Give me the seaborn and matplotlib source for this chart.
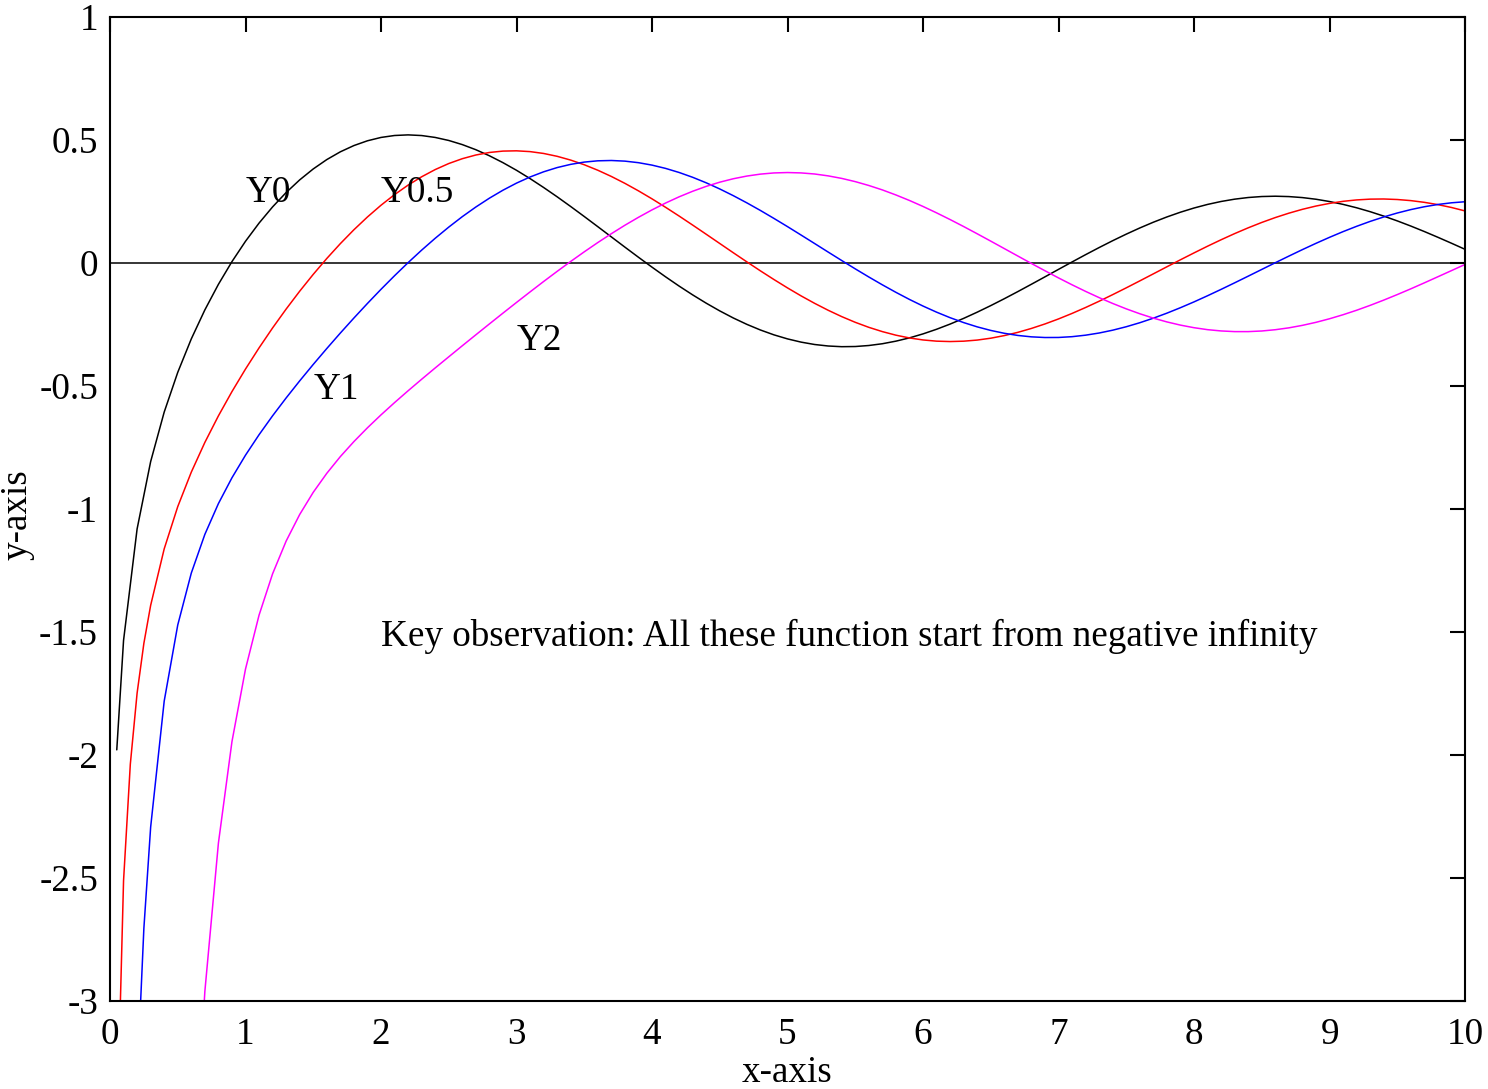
import numpy as np
import pandas as pd
import seaborn as sns
import matplotlib
matplotlib.use("Agg")
import matplotlib.pyplot as plt

# ---- data ----
x_y0 = [0.05, 0.1, 0.2, 0.3, 0.4, 0.5, 0.6, 0.7, 0.8, 0.9, 1.0, 1.1, 1.2, 1.3, 1.4, 1.5, 1.6, 1.7, 1.8, 1.9,
        2.0, 2.1, 2.2, 2.3, 2.4, 2.5, 2.6, 2.7, 2.8, 2.9, 3.0, 3.1, 3.2, 3.3, 3.4, 3.5, 3.6, 3.7, 3.8, 3.9,
        4.0, 4.1, 4.2, 4.3, 4.4, 4.5, 4.6, 4.7, 4.8, 4.9, 5.0, 5.1, 5.2, 5.3, 5.4, 5.5, 5.6, 5.7, 5.8, 5.9,
        6.0, 6.1, 6.2, 6.3, 6.4, 6.5, 6.6, 6.7, 6.8, 6.9, 7.0, 7.1, 7.2, 7.3, 7.4, 7.5, 7.6, 7.7, 7.8, 7.9,
        8.0, 8.1, 8.2, 8.3, 8.4, 8.5, 8.6, 8.7, 8.8, 8.9, 9.0, 9.1, 9.2, 9.3, 9.4, 9.5, 9.6, 9.7, 9.8, 9.9, 10.0]
y0 = [-1.979, -1.5342, -1.0811, -0.8073, -0.6060, -0.4445, -0.3085, -0.1907, -0.0868, 0.0056,
      0.0883, 0.1622, 0.2281, 0.2865, 0.3379, 0.3824, 0.4204, 0.4520, 0.4774, 0.4968,
      0.5104, 0.5183, 0.5208, 0.5181, 0.5104, 0.4981, 0.4813, 0.4605, 0.4359, 0.4079,
      0.3769, 0.3431, 0.3070, 0.2691, 0.2296, 0.1890, 0.1477, 0.1061, 0.0645, 0.0234,
      -0.0169, -0.0561, -0.0938, -0.1296, -0.1633, -0.1947, -0.2235, -0.2494, -0.2723, -0.2921,
      -0.3085, -0.3216, -0.3313, -0.3374, -0.3402, -0.3395, -0.3354, -0.3282, -0.3177, -0.3044,
      -0.2882, -0.2694, -0.2483, -0.2251, -0.1999, -0.1732, -0.1452, -0.1162, -0.0864, -0.0563,
      -0.0259, 0.0042, 0.0339, 0.0628, 0.0907, 0.1173, 0.1424, 0.1658, 0.1872, 0.2065,
      0.2235, 0.2381, 0.2501, 0.2595, 0.2662, 0.2702, 0.2715, 0.2700, 0.2659, 0.2592,
      0.2499, 0.2383, 0.2245, 0.2086, 0.1907, 0.1712, 0.1502, 0.1279, 0.1045, 0.0804, 0.0557]

x_y05 = [0.05, 0.1, 0.15, 0.2, 0.25, 0.3, 0.4, 0.5, 0.6, 0.7, 0.8, 0.9, 1.0, 1.1, 1.2, 1.3, 1.4, 1.5, 1.6, 1.7, 1.8, 1.9,
         2.0, 2.1, 2.2, 2.3, 2.4, 2.5, 2.6, 2.7, 2.8, 2.9, 3.0, 3.1, 3.2, 3.3, 3.4, 3.5, 3.6, 3.7, 3.8, 3.9,
         4.0, 4.1, 4.2, 4.3, 4.4, 4.5, 4.6, 4.7, 4.8, 4.9, 5.0, 5.1, 5.2, 5.3, 5.4, 5.5, 5.6, 5.7, 5.8, 5.9,
         6.0, 6.1, 6.2, 6.3, 6.4, 6.5, 6.6, 6.7, 6.8, 6.9, 7.0, 7.1, 7.2, 7.3, 7.4, 7.5, 7.6, 7.7, 7.8, 7.9,
         8.0, 8.1, 8.2, 8.3, 8.4, 8.5, 8.6, 8.7, 8.8, 8.9, 9.0, 9.1, 9.2, 9.3, 9.4, 9.5, 9.6, 9.7, 9.8, 9.9, 10.0]
y05 = [-3.564, -2.511, -2.037, -1.7486, -1.546, -1.3917, -1.1620, -0.9903, -0.8501, -0.7294, -0.6215, -0.5228,
       -0.4311, -0.3451, -0.2639, -0.1872, -0.1146, -0.0461, 0.0184, 0.0788, 0.1351, 0.1871,
       0.2348, 0.2780, 0.3166, 0.3505, 0.3798, 0.4043, 0.4240, 0.4390, 0.4493, 0.4549,
       0.4560, 0.4528, 0.4453, 0.4337, 0.4183, 0.3994, 0.3771, 0.3518, 0.3238, 0.2933,
       0.2608, 0.2265, 0.1909, 0.1542, 0.1169, 0.0793, 0.0417, 0.0046, -0.0319, -0.0672,
       -0.1012, -0.1336, -0.1639, -0.1921, -0.2179, -0.2411, -0.2615, -0.2789, -0.2934, -0.3047,
       -0.3128, -0.3177, -0.3193, -0.3178, -0.3133, -0.3057, -0.2951, -0.2819, -0.2660, -0.2478,
       -0.2274, -0.2050, -0.1809, -0.1554, -0.1286, -0.1010, -0.0727, -0.0441, -0.0154, 0.0131,
       0.0410, 0.0683, 0.0945, 0.1195, 0.1430, 0.1648, 0.1847, 0.2025, 0.2182, 0.2315,
       0.2423, 0.2507, 0.2564, 0.2596, 0.2602, 0.2581, 0.2536, 0.2466, 0.2373, 0.2257, 0.2117]

x_y1 = [0.15, 0.2, 0.25, 0.3, 0.4, 0.5, 0.6, 0.7, 0.8, 0.9, 1.0, 1.1, 1.2, 1.3, 1.4, 1.5, 1.6, 1.7, 1.8, 1.9,
        2.0, 2.1, 2.2, 2.3, 2.4, 2.5, 2.6, 2.7, 2.8, 2.9, 3.0, 3.1, 3.2, 3.3, 3.4, 3.5, 3.6, 3.7, 3.8, 3.9,
        4.0, 4.1, 4.2, 4.3, 4.4, 4.5, 4.6, 4.7, 4.8, 4.9, 5.0, 5.1, 5.2, 5.3, 5.4, 5.5, 5.6, 5.7, 5.8, 5.9,
        6.0, 6.1, 6.2, 6.3, 6.4, 6.5, 6.6, 6.7, 6.8, 6.9, 7.0, 7.1, 7.2, 7.3, 7.4, 7.5, 7.6, 7.7, 7.8, 7.9,
        8.0, 8.1, 8.2, 8.3, 8.4, 8.5, 8.6, 8.7, 8.8, 8.9, 9.0, 9.1, 9.2, 9.3, 9.4, 9.5, 9.6, 9.7, 9.8, 9.9, 10.0]
y1 = [-4.3638, -3.3238, -2.7046, -2.2931, -1.7809, -1.4715, -1.2604, -1.1032, -0.9781, -0.8731,
      -0.7812, -0.6981, -0.6211, -0.5485, -0.4791, -0.4123, -0.3476, -0.2847, -0.2237, -0.1644,
      -0.1070, -0.0517, 0.0015, 0.0523, 0.1005, 0.1459, 0.1884, 0.2276, 0.2635, 0.2959,
      0.3247, 0.3496, 0.3707, 0.3879, 0.4010, 0.4102, 0.4154, 0.4167, 0.4141, 0.4078,
      0.3979, 0.3846, 0.3680, 0.3484, 0.3260, 0.3010, 0.2737, 0.2445, 0.2136, 0.1812,
      0.1479, 0.1137, 0.0792, 0.0445, 0.0101, -0.0238, -0.0568, -0.0887, -0.1192, -0.1481,
      -0.1750, -0.1998, -0.2223, -0.2422, -0.2596, -0.2741, -0.2857, -0.2945, -0.3002, -0.3029,
      -0.3027, -0.2995, -0.2934, -0.2846, -0.2731, -0.2591, -0.2428, -0.2243, -0.2039, -0.1817,
      -0.1581, -0.1331, -0.1072, -0.0806, -0.0535, -0.0262, 0.0011, 0.0280, 0.0544, 0.0799,
      0.1043, 0.1275, 0.1491, 0.1691, 0.1871, 0.2032, 0.2171, 0.2287, 0.2379, 0.2447, 0.2490]

x_y2 = [0.6, 0.7, 0.8, 0.9, 1.0, 1.1, 1.2, 1.3, 1.4, 1.5, 1.6, 1.7, 1.8, 1.9,
        2.0, 2.1, 2.2, 2.3, 2.4, 2.5, 2.6, 2.7, 2.8, 2.9, 3.0, 3.1, 3.2, 3.3, 3.4, 3.5, 3.6, 3.7, 3.8, 3.9,
        4.0, 4.1, 4.2, 4.3, 4.4, 4.5, 4.6, 4.7, 4.8, 4.9, 5.0, 5.1, 5.2, 5.3, 5.4, 5.5, 5.6, 5.7, 5.8, 5.9,
        6.0, 6.1, 6.2, 6.3, 6.4, 6.5, 6.6, 6.7, 6.8, 6.9, 7.0, 7.1, 7.2, 7.3, 7.4, 7.5, 7.6, 7.7, 7.8, 7.9,
        8.0, 8.1, 8.2, 8.3, 8.4, 8.5, 8.6, 8.7, 8.8, 8.9, 9.0, 9.1, 9.2, 9.3, 9.4, 9.5, 9.6, 9.7, 9.8, 9.9, 10.0]
y2 = [-3.893, -2.9614, -2.3585, -1.9458, -1.6507, -1.4315, -1.2633, -1.1303, -1.0223, -0.9321,
      -0.8549, -0.7869, -0.7260, -0.6699, -0.6174, -0.5675, -0.5194, -0.4726, -0.4266, -0.3814,
      -0.3364, -0.2919, -0.2477, -0.2038, -0.1604, -0.1176, -0.0753, -0.0340, 0.0063, 0.0454,
      0.0831, 0.1191, 0.1535, 0.1857, 0.2159, 0.2437, 0.2690, 0.2916, 0.3115, 0.3285,
      0.3425, 0.3534, 0.3613, 0.3661, 0.3677, 0.3662, 0.3618, 0.3542, 0.3439, 0.3308,
      0.3151, 0.2971, 0.2766, 0.2542, 0.2299, 0.2039, 0.1766, 0.1482, 0.1188, 0.0889,
      0.0586, 0.0283, -0.0019, -0.0315, -0.0606, -0.0886, -0.1154, -0.1408, -0.1645, -0.1864,
      -0.2063, -0.2241, -0.2395, -0.2525, -0.2630, -0.2710, -0.2762, -0.2789, -0.2789, -0.2764,
      -0.2712, -0.2636, -0.2535, -0.2412, -0.2267, -0.2103, -0.1921, -0.1722, -0.1509, -0.1284,
      -0.1050, -0.0807, -0.0559, -0.0310, -0.0059]

series_names = ["Y0", "Y0.5", "Y1", "Y2"]
series_colors = ["black", "red", "blue", "magenta"]

labels_text = ["Y0", "Y0.5", "Y1", "Y2", "Key observation: All these function start from negative infinity"]
labels_x = [1.0, 2.0, 1.5, 3.0, 2.0]
labels_y = [0.3, 0.3, -0.5, -0.3, -1.5]

x_ticks = [0, 1, 2, 3, 4, 5, 6, 7, 8, 9, 10]
x_tick_labels = ["0", "1", "2", "3", "4", "5", "6", "7", "8", "9", "10"]
y_ticks = [-3, -2.5, -2, -1.5, -1, -0.5, 0, 0.5, 1]
y_tick_labels = ["-3", "-2.5", "-2", "-1.5", "-1", "-0.5", "0", "0.5", "1"]

# ---- styling ----
sns.set_theme(style="white")
plt.rcParams["font.family"] = ["Liberation Serif", "DejaVu Serif"]
plt.rcParams["axes.unicode_minus"] = False
FS = 26.7

frames = []
for name, xs, ys in zip(series_names, [x_y0, x_y05, x_y1, x_y2], [y0, y05, y1, y2]):
    frames.append(pd.DataFrame({"x": xs, "y": ys, "series": name}))
df = pd.concat(frames, ignore_index=True)

fig = plt.figure(figsize=(14.88, 10.89), dpi=100)
ax = fig.add_axes([110 / 1488, 1 - 1001 / 1089, (1465 - 110) / 1488, (1001 - 17) / 1089])

ax.axhline(0, color="black", linewidth=1.1, zorder=1)

sns.lineplot(data=df, x="x", y="y", hue="series", hue_order=series_names,
             palette=dict(zip(series_names, series_colors)), estimator=None, sort=False,
             linewidth=1.1, legend=False, ax=ax, zorder=2)

ax.set_xlim(0, 10)
ax.set_ylim(-3, 1)
ax.set_xticks(x_ticks)
ax.set_xticklabels(x_tick_labels)
ax.set_yticks(y_ticks)
ax.set_yticklabels(y_tick_labels)
ax.tick_params(direction="in", length=10.5, width=1.5, top=True, right=True,
               labelsize=FS, colors="black")
ax.tick_params(axis="y", pad=8.6)
ax.tick_params(axis="x", pad=12)
for s in ax.spines.values():
    s.set_visible(True)
    s.set_color("black")
    s.set_linewidth(1.5)

ax.set_xlabel("x-axis", fontsize=FS, color="black", va="baseline")
ax.xaxis.set_label_coords(0.5, (1001 - 1082) / 984)
ax.set_ylabel("y-axis", fontsize=FS, color="black", va="center")
ax.yaxis.set_label_coords((17 - 110) / 1355, (1001 - 515) / 984)

for t, lx, ly in zip(labels_text, labels_x, labels_y):
    ax.text(lx, ly, t, fontsize=FS, color="black", ha="left", va="center_baseline")

fig.savefig("out.png", dpi=100, facecolor="white")
